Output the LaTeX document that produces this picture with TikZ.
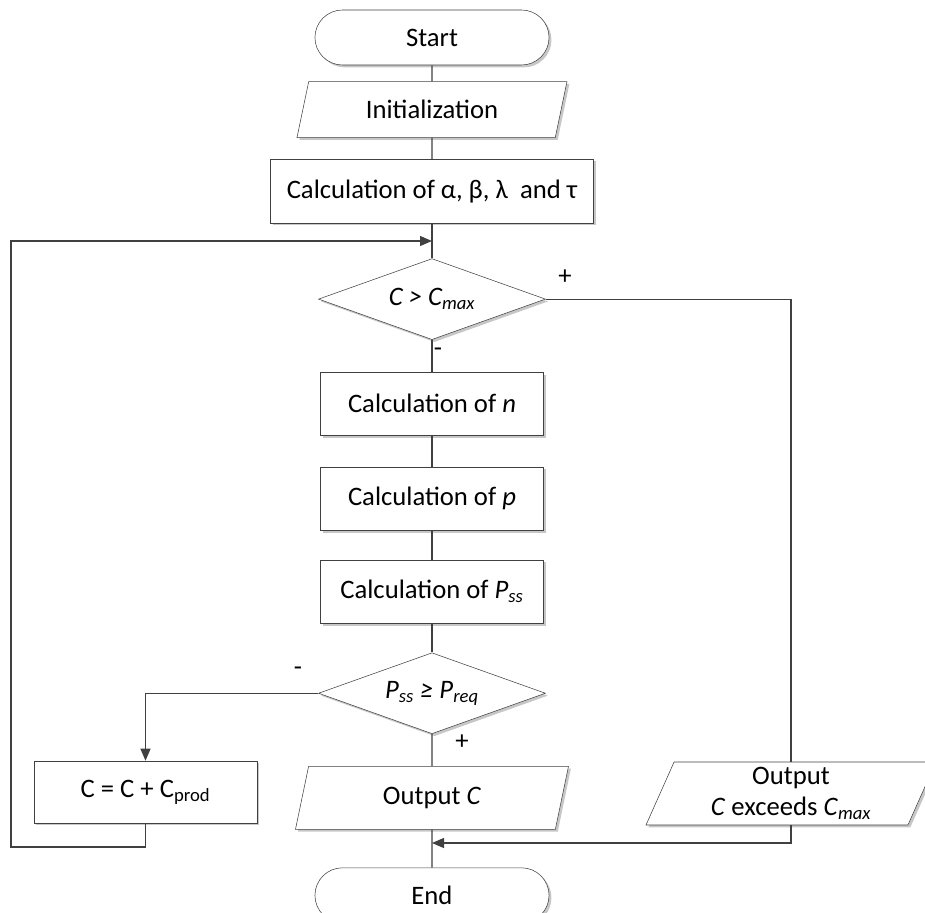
\documentclass[tikz,border=0pt]{standalone}
\usepackage{fontspec}
\setmainfont{Carlito}
\usetikzlibrary{positioning,shapes.geometric,shapes.misc,shadows,arrows.meta}
\definecolor{linegray}{HTML}{404040}

\begin{document}
\begin{tikzpicture} [x=0.75pt, y=-0.75pt, node distance=12pt,
                    every node/.style={font=\fontsize{20}{24}\selectfont},
                    shade/.style={drop shadow={shadow xshift=1.8pt,shadow yshift=-1.8pt,fill=black!22,opacity=1}},
                    term/.style={rounded rectangle,draw=linegray,fill=white,shade,minimum width=182.25pt,minimum height=41.25pt},
                    proc/.style={rectangle,draw=linegray,fill=white,shade,minimum width=167.25pt,minimum height=47.5pt},
                    io/.style={trapezium,trapezium left angle=64,trapezium right angle=116,trapezium stretches body,
                               draw=linegray,fill=white,shade,minimum height=47.25pt,inner sep=2pt},
                    decide/.style={diamond,aspect=2.8,draw=linegray,fill=white,shade,minimum width=170.25pt,minimum height=60.75pt,inner sep=0pt},
                    conn/.style={draw=linegray,line width=0.9pt},
                    arr/.style={-{Triangle[length=9pt,width=7.5pt]}}]

\useasboundingbox (0,0) rectangle (925,913);
\clip (0,0) rectangle (925,913);

\node[term] (START) at (432,37.5) {Start};
\node[io,minimum width=202.5pt,minimum height=42pt] (INIT) [below=12pt of START] {Initialization};
\node[proc,minimum width=242.25pt,minimum height=48pt] (CALC) [below=15.75pt of INIT] {Calculation of α, β, λ\ \ and τ};
\node[decide] (D1) [below=26.25pt of CALC] {\itshape C > C\textsubscript{max}};
\node[proc] (N) [below=24pt of D1] {Calculation of \textit{n}};
\node[proc] (P) [below=23.25pt of N] {Calculation of \textit{p}};
\node[proc] (PSS) [below=21.75pt of P] {Calculation of \textit{P}\textsubscript{\itshape ss}};
\node[decide] (D2) [below=21.75pt of PSS] {\itshape P\textsubscript{ss} ≥ P\textsubscript{req}};
\node[io,minimum width=204.75pt] (OUT) [below=24pt of D2] {Output \textit{C}};
\node[term] (END) [below=28.5pt of OUT] {End};
\node[proc,minimum height=46.5pt] (ADD) at (145.5,792) {C = C + C\textsubscript{prod}};
\node[io,minimum width=217.5pt,align=center,font=\fontsize{20}{23}\selectfont] (OUTX) at (791,793.5) {Output\\\textit{C} exceeds \textit{C}\textsubscript{\itshape max}};

\node (PLUS1) at (565,277) {+};
\node (MINUS1) at (438,352) {-};
\node (MINUS2) at (298,671) {-};
\node (PLUS2) at (462,742) {+};

\coordinate (J1) at (432,241);
\coordinate (J2) at (432,843);
\coordinate (LOOP) at (11,847);

 \path[conn]
    (START) edge (INIT)
    (INIT) edge (CALC)
    (CALC) edge (D1)
    (D1) edge (N)
    (N) edge (P)
    (P) edge (PSS)
    (PSS) edge (D2)
    (D2) edge (OUT)
    (OUT) edge (END);

\draw[conn,arr] (ADD.south) |- (LOOP) |- (J1);
\draw[conn,arr] (D2.west) -| (ADD.north);
\draw[conn] (D1.east) -| (OUTX.north);
\draw[conn,arr] (OUTX.south) |- (J2);
\end{tikzpicture}
\end{document}
